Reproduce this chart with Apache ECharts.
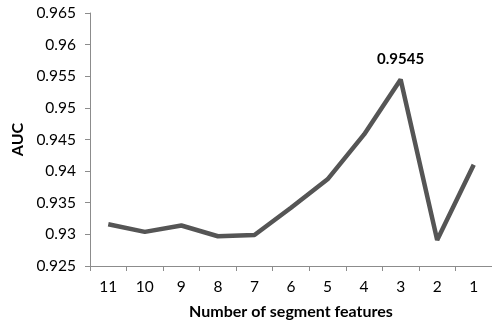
<!DOCTYPE html>
<html>
<head>
<meta charset="utf-8">
<script src="https://cdn.jsdelivr.net/npm/echarts@6/dist/echarts.min.js"></script>
<style>
  html, body { margin: 0; padding: 0; background: #fff; }
  #chart { width: 492px; height: 322px; }
</style>
</head>
<body>
<div id="chart"></div>
<script>
// segment feature counts along the x axis
var featureCounts = ['11', '10', '9', '8', '7', '6', '5', '4', '3', '2', '1'];
// AUC per count
var aucValues = [0.9316, 0.9304, 0.9314, 0.9297, 0.9299, 0.9342, 0.9387, 0.9458, 0.9545, 0.9291, 0.9410];
var peakIndex = 8;

var chart = echarts.init(document.getElementById('chart'), null, { renderer: 'canvas' });

var seriesData = aucValues.map(function (v, i) {
    if (i === peakIndex) {
        return {
            value: v,
            label: {
                show: true,
                position: 'top',
                distance: 13,
                formatter: '0.9545',
                fontFamily: 'Lato',
                fontWeight: 'bold',
                fontSize: 15,
                color: '#000'
            }
        };
    }
    return v;
});

var axisFont = { fontFamily: 'Lato', fontSize: 15.5, color: '#000' };
var nameFont = { fontFamily: 'Lato', fontWeight: 'bold', fontSize: 16, color: '#000' };

chart.setOption({
    animation: false,
    grid: { left: 90, right: 0, top: 13, bottom: 56, outerBoundsMode: 'none' },
    xAxis: {
        type: 'category',
        data: featureCounts,
        boundaryGap: true,
        name: 'Number of segment features',
        nameLocation: 'middle',
        nameGap: 38,
        nameTextStyle: nameFont,
        axisLine: { lineStyle: { color: '#8c8c8c', width: 1 } },
        axisTick: { show: true, alignWithLabel: false, length: 5, lineStyle: { color: '#8c8c8c' } },
        axisLabel: Object.assign({ margin: 13 }, axisFont),
        splitLine: { show: false }
    },
    yAxis: {
        type: 'value',
        min: 0.925,
        max: 0.965,
        interval: 0.005,
        name: 'AUC',
        nameLocation: 'middle',
        nameGap: 60,
        nameRotate: 90,
        nameTextStyle: nameFont,
        axisLine: { show: true, lineStyle: { color: '#8c8c8c', width: 1 } },
        axisTick: { show: true, length: 5, lineStyle: { color: '#8c8c8c' } },
        axisLabel: Object.assign({ margin: 14 }, axisFont),
        splitLine: { show: false }
    },
    series: [{
        type: 'line',
        data: seriesData,
        showSymbol: true,
        symbol: 'circle',
        symbolSize: 0,
        lineStyle: { color: '#555555', width: 4.5 },
        itemStyle: { color: '#555555' }
    }]
});
</script>
</body>
</html>
